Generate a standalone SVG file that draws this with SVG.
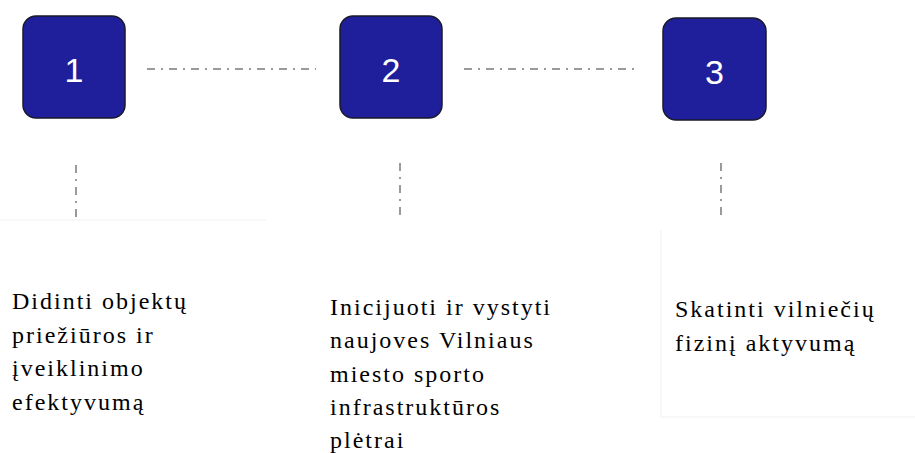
<svg xmlns="http://www.w3.org/2000/svg" width="915" height="453" viewBox="0 0 915 453">
<style>
.box{fill:#1f1f9c;stroke:#1a1a2a;stroke-width:1.5}
.num{font-family:"Liberation Sans",Arial,sans-serif;font-size:34px;fill:#fff;text-anchor:middle}
.conn{stroke:#9a9a9a;stroke-width:2;stroke-dasharray:8 6 2 6;fill:none}
.faint{stroke:#f6f6f6;stroke-width:1.5;fill:none}
.lbl{font-family:"Liberation Serif","Times New Roman",serif;font-size:24px;letter-spacing:2px;fill:#000}
</style>
<rect width="915" height="453" fill="#fff"/>
<g id="frames">
<path class="faint" d="M0 220H266"/>
<path class="faint" d="M661 230V417H915"/>
</g>
<g id="connectors">
<path class="conn" d="M147 69H316"/>
<path class="conn" d="M464 69H634"/>
<path class="conn" d="M76 165V217"/>
<path class="conn" d="M400 163V215"/>
<path class="conn" d="M721 163V215"/>
</g>
<g id="node1">
<rect class="box" x="23" y="16" width="102" height="102" rx="13"/>
<text class="num" x="74" y="82">1</text>
</g>
<g id="node2">
<rect class="box" x="340" y="16" width="102" height="102" rx="13"/>
<text class="num" x="391" y="82">2</text>
</g>
<g id="node3">
<rect class="box" x="663" y="18" width="103" height="102" rx="13"/>
<text class="num" x="714.5" y="84">3</text>
</g>
<g id="label1">
<text class="lbl" x="12" y="309">Didinti objektų</text>
<text class="lbl" x="12" y="343">priežiūros ir</text>
<text class="lbl" x="12" y="376">įveiklinimo</text>
<text class="lbl" x="12" y="410">efektyvumą</text>
</g>
<g id="label2">
<text class="lbl" x="330" y="315">Inicijuoti ir vystyti</text>
<text class="lbl" x="330" y="348">naujoves Vilniaus</text>
<text class="lbl" x="330" y="382">miesto sporto</text>
<text class="lbl" x="330" y="415">infrastruktūros</text>
<text class="lbl" x="330" y="448">plėtrai</text>
</g>
<g id="label3">
<text class="lbl" x="675" y="317">Skatinti vilniečių</text>
<text class="lbl" x="675" y="351">fizinį aktyvumą</text>
</g>
</svg>
